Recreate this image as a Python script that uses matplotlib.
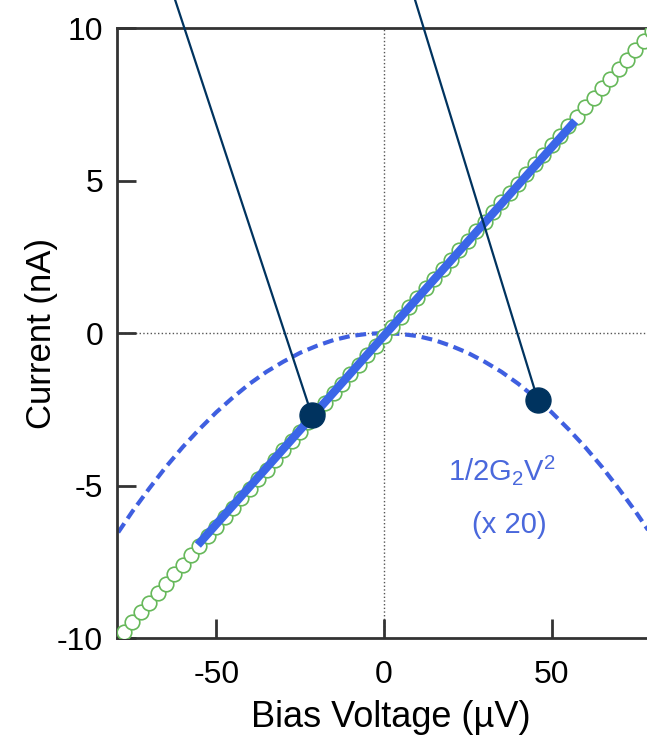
# I-V curve with quadratic term, redrawn from the reference picture
import matplotlib.pyplot as plt

plt.rcParams['font.family'] = ['Liberation Sans', 'DejaVu Sans']
plt.rcParams['mathtext.default'] = 'regular'
plt.rcParams['axes.unicode_minus'] = False

# measured points (open circles)
bias = [-77.5, -75, -72.5, -70, -67.5, -65, -62.5, -60, -57.5, -55, -52.5,
        -50, -47.5, -45, -42.5, -40, -37.5, -35, -32.5, -30, -27.5, -25, -22.5,
        -20, -17.5, -15, -12.5, -10, -7.5, -5, -2.5, 0, 2.5, 5, 7.5, 10, 12.5,
        15, 17.5, 20, 22.5, 25, 27.5, 30, 32.5, 35, 37.5, 40, 42.5, 45, 47.5,
        50, 52.5, 55, 57.5, 60, 62.5, 65, 67.5, 70, 72.5, 75, 77.5, 80]
current = [-9.79, -9.48, -9.16, -8.85, -8.54, -8.23, -7.91, -7.60, -7.29, -6.98,
           -6.66, -6.35, -6.04, -5.73, -5.41, -5.10, -4.79, -4.48, -4.16, -3.85,
           -3.54, -3.23, -2.91, -2.60, -2.29, -1.98, -1.66, -1.35, -1.04, -0.73,
           -0.41, -0.10, 0.21, 0.53, 0.84, 1.15, 1.46, 1.78, 2.09, 2.40, 2.71,
           3.03, 3.34, 3.65, 3.96, 4.28, 4.59, 4.90, 5.21, 5.53, 5.84, 6.15,
           6.46, 6.78, 7.09, 7.40, 7.71, 8.03, 8.34, 8.65, 8.96, 9.28, 9.59, 9.90]

# linear fit (thick blue line)
bias_fit = [-55.5, 57]
current_fit = [-6.95, 6.95]

# quadratic term 1/2 G2 V^2, x20 (dashed)
bias_q = [-82, -80, -75, -70, -65, -60, -55, -50, -45, -40, -35, -30, -25, -20,
          -15, -10, -5, 0, 5, 10, 15, 20, 25, 30, 35, 40, 45, 50, 55, 60, 65,
          70, 75, 80, 82]
current_q = [-6.99, -6.66, -5.85, -5.10, -4.39, -3.74, -3.15, -2.60, -2.11, -1.66,
             -1.27, -0.94, -0.65, -0.42, -0.23, -0.10, -0.03, 0.00, -0.03, -0.10,
             -0.23, -0.42, -0.65, -0.94, -1.27, -1.66, -2.11, -2.60, -3.15, -3.74,
             -4.39, -5.10, -5.85, -6.66, -6.99]

# pointer lines: (top end, dot)
ptr1_x, ptr1_y = [-63.1, -21.5], [11.2, -2.69]
ptr2_x, ptr2_y = [8.5, 45.9], [11.2, -2.2]

fig = plt.figure(figsize=(6.47, 7.41), dpi=100)
ax = fig.add_axes([0.1808, 0.139, 0.848, 0.8232])

ax.axhline(0, color='#555555', lw=1, ls=':', zorder=1)
ax.axvline(0, color='#555555', lw=1, ls=':', zorder=1)

ax.plot(bias_q, current_q, color='#3f5fe0', lw=3, ls=(0, (2.6, 1.4)), zorder=2)
ax.plot(bias, current, 'o', mfc='white', mec='#66b85a', mew=1.2, ms=10.5, zorder=3)
ax.plot(bias_fit, current_fit, color='#3b66e8', lw=6, solid_capstyle='butt', zorder=4)

navy = '#00335f'
for px, py in [(ptr1_x, ptr1_y), (ptr2_x, ptr2_y)]:
    ax.plot(px, py, color=navy, lw=1.6, clip_on=False, zorder=5)
    ax.plot(px[1], py[1], 'o', color=navy, ms=18, clip_on=False, zorder=6)

ax.text(35, -4.5, r'1/2G$_2$V$^2$', color='#4a68dc', fontsize=21, ha='center', va='center')
ax.text(37.5, -6.3, '(x 20)', color='#4a68dc', fontsize=21, ha='center', va='center')

ax.set_xlim(-79.6, 84)
ax.set_ylim(-10, 10)
ax.set_xticks([-50, 0, 50])
ax.set_yticks([-10, -5, 0, 5, 10])
ax.tick_params(direction='in', length=14, width=2, color='#333333', labelsize=23)
ax.tick_params(axis='x', pad=16)
ax.tick_params(axis='y', pad=10)
for s in ['left', 'bottom', 'top', 'right']:
    ax.spines[s].set_linewidth(2)
    ax.spines[s].set_color('#333333')

ax.set_xlabel('Bias Voltage (µV)', fontsize=26, labelpad=7)
ax.set_ylabel('Current (nA)', fontsize=25)
ax.yaxis.set_label_coords(-0.107, 0.5)

fig.savefig('out.png', dpi=100)
